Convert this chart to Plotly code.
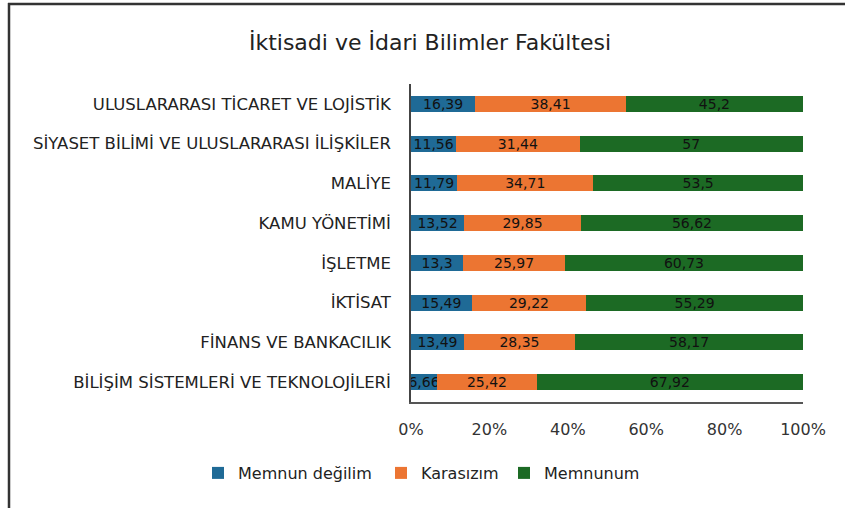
import plotly.graph_objects as go

categories = [
    "ULUSLARARASI TİCARET VE LOJİSTİK",
    "SİYASET BİLİMİ VE ULUSLARARASI İLİŞKİLER",
    "MALİYE",
    "KAMU YÖNETİMİ",
    "İŞLETME",
    "İKTİSAT",
    "FİNANS VE BANKACILIK",
    "BİLİŞİM SİSTEMLERİ VE TEKNOLOJİLERİ",
]
memnun_degilim = [16.39, 11.56, 11.79, 13.52, 13.3, 15.49, 13.49, 6.66]
karasizim = [38.41, 31.44, 34.71, 29.85, 25.97, 29.22, 28.35, 25.42]
memnunum = [45.2, 57, 53.5, 56.62, 60.73, 55.29, 58.17, 67.92]
x_ticks = [0, 20, 40, 60, 80, 100]
x_tick_labels = ["0%", "20%", "40%", "60%", "80%", "100%"]

series = [
    ("Memnun değilim", memnun_degilim, "#1f6a96", "legend", 240),
    ("Karasızım", karasizim, "#ec7532", "legend2", 423),
    ("Memnunum", memnunum, "#1c6a24", "legend3", 546),
]

W, H = 845, 508
L, R, T, B = 411, 42, 84, 106
pw, ph = W - L - R, H - T - B

def px_x(p):
    return (p - L) / pw

def px_y(p):
    return (H - B - p) / ph

fig = go.Figure()
legends = {}
for name, vals, color, leg, text_x in series:
    fig.add_trace(go.Bar(
        y=categories, x=vals, name=name, orientation="h", legend=leg, showlegend=True,
        marker=dict(color=color, line=dict(width=0)),
        text=[f"{v:g}".replace(".", ",") for v in vals],
        textposition="inside", insidetextanchor="middle", textangle=0,
        textfont=dict(family="DejaVu Sans", size=14, color="#111111"),
        hoverinfo="skip",
    ))
    legends[leg] = dict(orientation="h", xref="container", yref="container",
                        x=(text_x - 42) / W, xanchor="left", y=1 - 473 / H, yanchor="middle",
                        font=dict(family="DejaVu Sans", size=16, color="#222222"),
                        itemwidth=30, bgcolor="rgba(0,0,0,0)")

fig.update_layout(
    width=W, height=H, barmode="stack", bargap=0.6, showlegend=True,
    margin=dict(l=L, r=R, t=T, b=B, autoexpand=False),
    paper_bgcolor="white", plot_bgcolor="white",
    uniformtext=dict(minsize=14, mode="show"),
    title=dict(text="İktisadi ve İdari Bilimler Fakültesi", x=430 / W, xanchor="center",
               y=1 - 42 / H, yanchor="middle",
               font=dict(family="DejaVu Sans", size=22, color="#222222")),
    xaxis=dict(range=[0, 100], tickvals=x_ticks, ticktext=x_tick_labels,
               showgrid=False, zeroline=False, showline=True, linecolor="#555555", linewidth=1.5,
               ticks="", tickfont=dict(family="DejaVu Sans", size=16, color="#333333"), ticklabelstandoff=12),
    yaxis=dict(autorange="reversed", showgrid=False, showline=True, linecolor="#444444", linewidth=1.5,
               ticks="", ticklabelstandoff=15,
               tickfont=dict(family="DejaVu Sans", size=16.5, color="#222222")),
    shapes=[
        dict(type="line", xref="paper", yref="paper", x0=px_x(9), x1=px_x(9), y0=px_y(3), y1=px_y(510),
             line=dict(color="#333333", width=2.5)),
        dict(type="line", xref="paper", yref="paper", x0=px_x(8), x1=px_x(846), y0=px_y(4), y1=px_y(4),
             line=dict(color="#333333", width=2.5)),
    ],
    **legends,
)

fig.write_html("out.html", config={"displayModeBar": False},
               post_script="document.body.style.margin='0';document.body.style.overflow='hidden';")
